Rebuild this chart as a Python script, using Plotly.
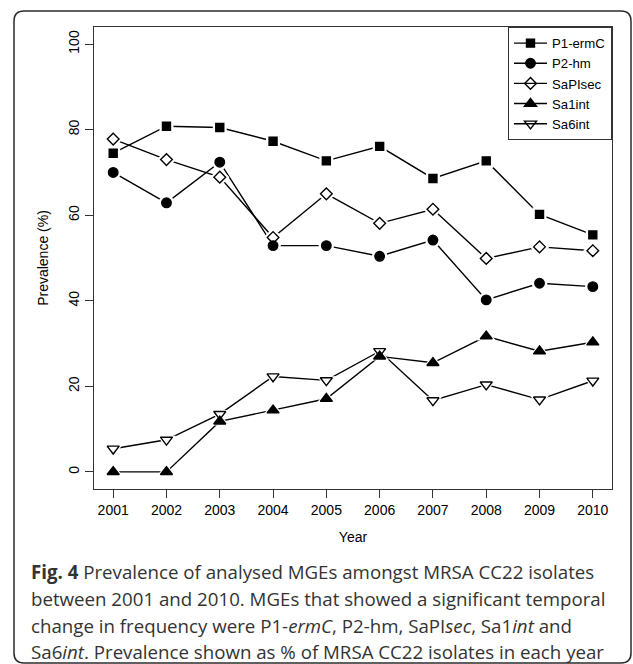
import plotly.graph_objects as go

# Prevalence (%) of each mobile genetic element among MRSA CC22 isolates, by year
years = [2001, 2002, 2003, 2004, 2005, 2006, 2007, 2008, 2009, 2010]
p1_ermc = [74.5, 80.8, 80.5, 77.3, 72.7, 76.1, 68.6, 72.7, 60.2, 55.4]
p2_hm = [70.0, 62.9, 72.4, 52.9, 52.9, 50.4, 54.2, 40.2, 44.1, 43.3]
sapi_sec = [77.8, 73.0, 68.9, 54.8, 65.0, 58.1, 61.4, 49.9, 52.6, 51.7]
sa1_int = [0.0, 0.0, 11.8, 14.4, 17.1, 27.0, 25.5, 31.7, 28.2, 30.3]
sa6_int = [5.4, 7.5, 13.5, 22.3, 21.4, 28.2, 16.7, 20.4, 16.9, 21.3]

series_names = ["P1-ermC", "P2-hm", "SaPIsec", "Sa1int", "Sa6int"]
series_values = [p1_ermc, p2_hm, sapi_sec, sa1_int, sa6_int]
y_ticks = [0, 20, 40, 60, 80, 100]

caption_lines = [
    "<b>Fig. 4</b> Prevalence of analysed MGEs amongst MRSA CC22 isolates",
    "between 2001 and 2010. MGEs that showed a significant temporal",
    "change in frequency were P1-<i>ermC</i>, P2-hm, SaPI<i>sec</i>, Sa1<i>int</i> and",
    "Sa6<i>int</i>. Prevalence shown as % of MRSA CC22 isolates in each year",
]

# marker style per series: (symbol, halo symbol, size)
styles = [
    ("square", "square", 8),
    ("circle", "circle", 9.5),
    ("diamond-open", "diamond", 9),
    ("triangle-up", "triangle-up", 10.5),
    ("triangle-down-open", "triangle-down", 10.5),
]

W, H = 633, 664
ML, MR, MT, MB = 94, 21, 27, 175
PW, PH = W - ML - MR, H - MT - MB


def px(x):
    return (x - ML) / PW


def py(y):
    return (H - MB - y) / PH


AXIS_FONT = dict(family="Liberation Sans, Arial, sans-serif", size=14, color="black")
LEGEND_FONT = dict(family="Liberation Sans, Arial, sans-serif", size=13.2, color="black")

fig = go.Figure()

# connecting lines (legend entries show line + symbol)
for name, vals, (sym, _, size) in zip(series_names, series_values, styles):
    fig.add_trace(go.Scatter(
        x=years, y=vals, name=name, mode="lines+markers",
        line=dict(color="black", width=1.4),
        marker=dict(symbol=sym, size=size, color="black", line=dict(color="black", width=1.4)),
        hoverinfo="skip",
    ))

# white halos leave a small gap between each segment and its points
for vals, (_, halo, size) in zip(series_values, styles):
    fig.add_trace(go.Scatter(
        x=years, y=vals, mode="markers", showlegend=False, hoverinfo="skip",
        marker=dict(symbol=halo, size=size + 6, color="white", line=dict(width=0)),
    ))

# point symbols
for name, vals, (sym, _, size) in zip(series_names, series_values, styles):
    fig.add_trace(go.Scatter(
        x=years, y=vals, mode="markers", showlegend=False, name=name,
        marker=dict(symbol=sym, size=size, color="black", line=dict(color="black", width=1.4)),
    ))

# rounded outer frame
r = 10
x0, x1 = px(14), px(631)
y0, y1 = py(11), py(663)
rx, ry = r / PW, r / PH
frame = (f"M {x0 + rx},{y0} L {x1 - rx},{y0} Q {x1},{y0} {x1},{y0 - ry} "
         f"L {x1},{y1 + ry} Q {x1},{y1} {x1 - rx},{y1} "
         f"L {x0 + rx},{y1} Q {x0},{y1} {x0},{y1 + ry} "
         f"L {x0},{y0 - ry} Q {x0},{y0} {x0 + rx},{y0} Z")
fig.add_shape(type="path", path=frame, xref="paper", yref="paper",
              line=dict(color="#2b2b2b", width=1.5), layer="below")

caption_y = [571.7, 598.3, 625.0, 651.7]
for text, yc in zip(caption_lines, caption_y):
    fig.add_annotation(
        text=text, xref="paper", yref="paper", x=px(29), y=py(yc),
        xanchor="left", yanchor="middle", showarrow=False,
        font=dict(family="Open Sans, Noto Sans, sans-serif", size=18.7, color="#333333"),
    )

fig.update_layout(
    width=W, height=H,
    margin=dict(l=ML, r=MR, t=MT, b=MB),
    paper_bgcolor="white", plot_bgcolor="white",
    font=AXIS_FONT,
    showlegend=True,
    legend=dict(
        x=1, y=1, xanchor="right", yanchor="top",
        bordercolor="#333333", borderwidth=1, bgcolor="white",
        font=LEGEND_FONT, itemwidth=33, tracegroupgap=0,
    ),
    xaxis=dict(
        range=[2000.64, 2010.36], tickmode="array", tickvals=years,
        ticktext=[str(y) for y in years],
        showgrid=False, zeroline=False,
        showline=True, mirror=True, linecolor="#333333", linewidth=1,
        ticks="outside", ticklen=8, tickcolor="#333333", tickfont=AXIS_FONT,
        title=dict(text="Year", font=AXIS_FONT, standoff=15),
    ),
    yaxis=dict(
        range=[-4, 104], tickmode="array", tickvals=y_ticks,
        showgrid=False, zeroline=False,
        showline=True, mirror=True, linecolor="#333333", linewidth=1,
        ticks="outside", ticklen=8, tickcolor="#333333", tickfont=AXIS_FONT,
        tickangle=-90,
        title=dict(text="Prevalence (%)", font=AXIS_FONT, standoff=14),
    ),
)

fig.write_html("out.html")
